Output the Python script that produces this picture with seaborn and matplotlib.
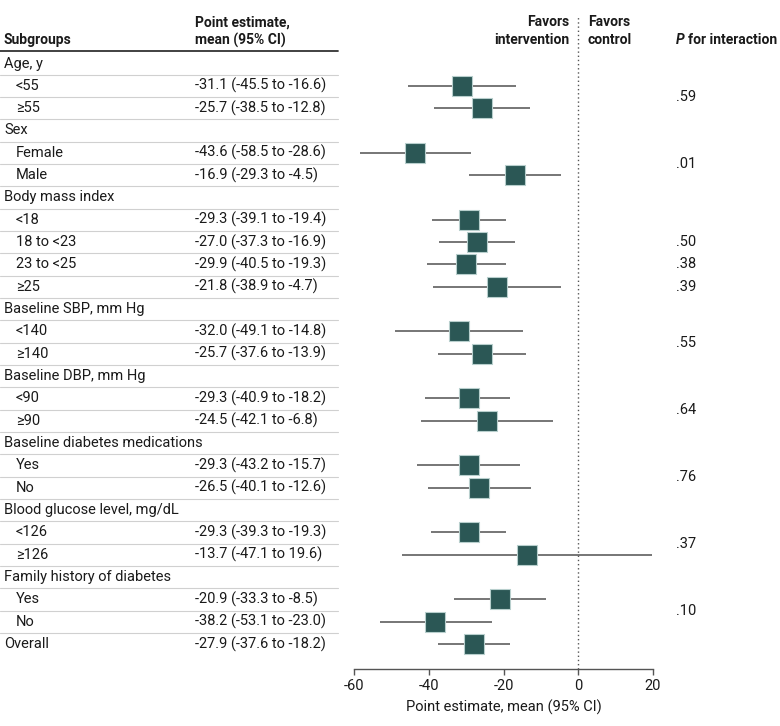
import matplotlib
matplotlib.use("Agg")
import matplotlib.pyplot as plt
import matplotlib.transforms as mtransforms
from matplotlib import font_manager
import seaborn as sns
import pandas as pd
import numpy as np

# ---------------- data ----------------
labels = ["Age, y", "<55", "≥55", "Sex", "Female", "Male", "Body mass index",
          "<18", "18 to <23", "23 to <25", "≥25", "Baseline SBP, mm Hg", "<140", "≥140",
          "Baseline DBP, mm Hg", "<90", "≥90", "Baseline diabetes medications", "Yes", "No",
          "Blood glucose level, mg/dL", "<126", "≥126", "Family history of diabetes",
          "Yes", "No", "Overall"]
indent = [0, 1, 1, 0, 1, 1, 0, 1, 1, 1, 1, 0, 1, 1, 0, 1, 1, 0, 1, 1, 0, 1, 1, 0, 1, 1, 0]
est = [None, -31.1, -25.7, None, -43.6, -16.9, None, -29.3, -27.0, -29.9, -21.8,
       None, -32.0, -25.7, None, -29.3, -24.5, None, -29.3, -26.5, None, -29.3, -13.7,
       None, -20.9, -38.2, -27.9]
lo = [None, -45.5, -38.5, None, -58.5, -29.3, None, -39.1, -37.3, -40.5, -38.9,
      None, -49.1, -37.6, None, -40.9, -42.1, None, -43.2, -40.1, None, -39.3, -47.1,
      None, -33.3, -53.1, -37.6]
hi = [None, -16.6, -12.8, None, -28.6, -4.5, None, -19.4, -16.9, -19.3, -4.7,
      None, -14.8, -13.9, None, -18.2, -6.8, None, -15.7, -12.6, None, -19.3, 19.6,
      None, -8.5, -23.0, -18.2]
p_rows = [1.5, 4.5, 8, 9, 10, 12.5, 15.5, 18.5, 21.5, 24.5]
p_vals = [".59", ".01", ".50", ".38", ".39", ".55", ".64", ".76", ".37", ".10"]
xticks = [-60, -40, -20, 0, 20]

# ---------------- style ----------------
sns.set_theme(style="white")
avail = {f.name for f in font_manager.fontManager.ttflist}
fam = "Liberation Sans Narrow" if "Liberation Sans Narrow" in avail else "Roboto"
plt.rcParams["font.family"] = [fam, "DejaVu Sans"]
TXT = "#1a1a1a"
FS = 10.5
FSB = 10

W, H = 780, 726
fig = plt.figure(figsize=(W / 100, H / 100), dpi=100)
ax_l, ax_r = 354 / W, 653 / W
ax_top_px, ax_bot_px = 15, 669
ax = fig.add_axes([ax_l, 1 - ax_bot_px / H, ax_r - ax_l, (ax_bot_px - ax_top_px) / H])

row0_px, step_px = 63.5, 22.33
ax.set_xlim(-60, 20)
ax.set_ylim((ax_bot_px - row0_px) / step_px, (ax_top_px - row0_px) / step_px)

rows = list(range(len(labels)))
df = pd.DataFrame({"row": rows, "est": est, "lo": lo, "hi": hi}).dropna()

ax.axvline(0, color="#555555", lw=1, ls=(0, (1, 2)), zorder=1)
ax.hlines(df["row"], df["lo"], df["hi"], color="#5f5f5f", lw=1.2, zorder=2)
sns.scatterplot(data=df, x="est", y="row", marker="s", s=225, color="#2b5755",
                edgecolor="#b8cfcd", linewidth=0.8, ax=ax, zorder=3, legend=False)

for s in ["top", "right", "left"]:
    ax.spines[s].set_visible(False)
ax.spines["bottom"].set_color("#555555")
ax.spines["bottom"].set_linewidth(1)
ax.set_yticks([])
ax.set_xticks(xticks)
ax.set_xticklabels([str(t) if t >= 0 else "-" + str(-t) for t in xticks])
ax.tick_params(axis="x", bottom=True, direction="out", length=4, width=1,
               color="#555555", labelsize=FS, labelcolor=TXT, pad=3)
ax.set_xlabel("Point estimate, mean (95% CI)", fontsize=FS, color=TXT, labelpad=5)
ax.set_ylabel("")

# ---------------- table text ----------------
tr = mtransforms.blended_transform_factory(fig.transFigure, ax.transData)


def f(v):
    return ("-" + f"{-v:.1f}") if v < 0 else f"{v:.1f}"


for i, lab in enumerate(labels):
    x = (4 if indent[i] == 0 else 16) / W
    ax.text(x, i, lab, transform=tr, ha="left", va="center", fontsize=FS, color=TXT, clip_on=False)
    if est[i] is not None:
        ax.text(195 / W, i, f"{f(est[i])} ({f(lo[i])} to {f(hi[i])})", transform=tr,
                ha="left", va="center", fontsize=FS, color=TXT, clip_on=False)
    if i < len(labels) - 1:
        ax.plot([0, 338 / W], [i + 0.5, i + 0.5], transform=tr, color="#d0d0d0",
                lw=0.8, clip_on=False)

for r, pv in zip(p_rows, p_vals):
    ax.text(676 / W, r, pv, transform=tr, ha="left", va="center", fontsize=FS,
            color=TXT, clip_on=False)

# ---------------- header ----------------
def fy(px):
    return 1 - px / H


hdr = dict(va="center", fontsize=FSB, weight="bold", color=TXT)
fig.text(4 / W, fy(40), "Subgroups", ha="left", **hdr)
fig.text(195 / W, fy(22.5), "Point estimate,", ha="left", **hdr)
fig.text(195 / W, fy(40), "mean (95% CI)", ha="left", **hdr)
fig.text(569 / W, fy(22.5), "Favors", ha="right", **hdr)
fig.text(569 / W, fy(40), "intervention", ha="right", **hdr)
fig.text(588 / W, fy(22.5), "Favors", ha="left", **hdr)
fig.text(588 / W, fy(40), "control", ha="left", **hdr)
tp = fig.text(676 / W, fy(40), "P", ha="left", style="italic", **hdr)
fig.canvas.draw()
bb = tp.get_window_extent(fig.canvas.get_renderer())
fig.text(bb.x1 / W + 3 / W, fy(40), "for interaction", ha="left", **hdr)
fig.add_artist(plt.Line2D([0, 338 / W], [fy(50.7), fy(50.7)], color="#333333", lw=1.3))

fig.savefig("out.png", dpi=100)
